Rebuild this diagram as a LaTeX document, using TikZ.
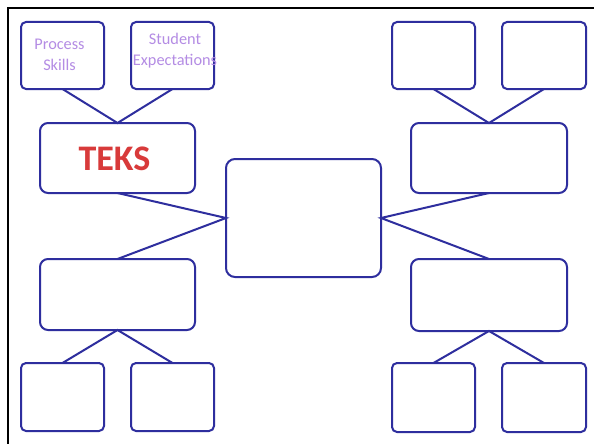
\documentclass[tikz,border=0pt]{standalone}
\usepackage{fontspec}
\setmainfont{Carlito}
\definecolor{boxblue}{HTML}{2E2E9E}
\definecolor{softpurple}{HTML}{B48CE4}
\definecolor{teksred}{HTML}{D83A3A}
\begin{document}
\begin{tikzpicture}[x=1pt,y=-1pt,
  box/.style={draw=boxblue, line width=2pt, rounded corners=5pt,
    inner sep=0pt, outer sep=0pt, minimum width=#1},
  box/.default=83,
  link/.style={draw=boxblue, line width=2pt},
  note/.style={text=softpurple, font=\fontsize{16.3}{20.5}\selectfont, align=center, inner sep=0pt},
]
\useasboundingbox (0,0) rectangle (594,444);
\fill[white] (0,0) rectangle (594,444);
% page frame, only its top and left edges fall inside the page
\draw[black, line width=2.6pt] (8,460) -- (8,8) -- (610,8);

% left branch
\node[box, minimum height=67] (ps) at (62.5,55.5) {};
\node[box, minimum height=67] (se) at (172.5,55.5) {};
\node[box=155, minimum height=70, rounded corners=8pt] (teks) at (117.5,158) {};
\node[box=155, minimum height=71, rounded corners=8pt] (ll) at (117.5,294.5) {};
\node[box, minimum height=68] (bl1) at (62.5,397) {};
\node[box, minimum height=68] (bl2) at (172.5,397) {};

% centre
\node[box=155, minimum height=118, rounded corners=9pt] (mid) at (303.5,218) {};

% right branch
\node[box, minimum height=67] (tr1) at (433.5,55.5) {};
\node[box=84, minimum height=67] (tr2) at (544,55.5) {};
\node[box=156, minimum height=70, rounded corners=8pt] (ru) at (489,158) {};
\node[box=156, minimum height=72, rounded corners=8pt] (rl) at (489,295) {};
\node[box, minimum height=69] (br1) at (433.5,397.5) {};
\node[box=84, minimum height=69] (br2) at (544,397.5) {};

% texts
\node[note] (pstext) at (59.5,55) {Process\\Skills};
\node[note] (setext) at (175,50.5) {Student\\Expectations};
\node[text=teksred, font=\bfseries\fontsize{36}{40}\selectfont, inner sep=0pt] (tekstext) at (114.5,158.5) {TEKS};

% connectors
\draw[link] (ps.south) -- (teks.north) -- (se.south);
\draw[link] (teks.south) -- (mid.west) -- (ll.north);
\draw[link] (bl1.north) -- (ll.south) -- (bl2.north);
\draw[link] (tr1.south) -- (ru.north) -- (tr2.south);
\draw[link] (ru.south) -- (mid.east) -- (rl.north);
\draw[link] (br1.north) -- (rl.south) -- (br2.north);
\end{tikzpicture}
\end{document}
